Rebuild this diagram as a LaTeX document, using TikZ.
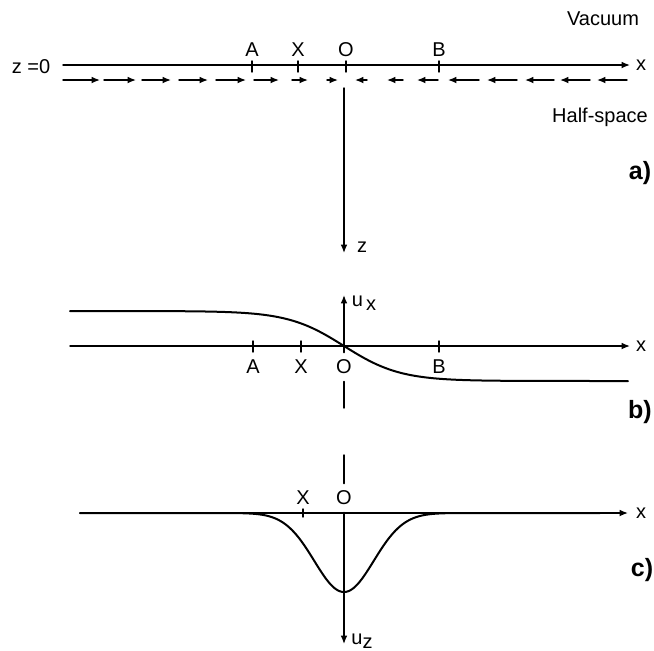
\documentclass[tikz,border=0pt]{standalone}
\usepackage{fontspec}
\setmainfont{Liberation Sans}
\usetikzlibrary{arrows.meta}
\begin{document}
\begin{tikzpicture}[x=0.5pt,y=-0.5pt,line join=round,line cap=round,line width=0.7pt,
	>={Latex[length=4.2pt,width=3.4pt]},font=\fontsize{10}{12}\selectfont,
	curve/.style={line width=1pt},
	tag/.style={font=\fontsize{12.5}{14}\selectfont\bfseries}]
	\useasboundingbox (0,0) rectangle (654,650);
	\path
	(63,65) coordinate (aleft) (630,65) coordinate (aright)
	(344,88) coordinate (ztop) (344,253) coordinate (zbot)
	(70,346) coordinate (bleft) (630,346) coordinate (bright)
	(344,295) coordinate (btop) (344,408) coordinate (bbot)
	(80,513) coordinate (cleft) (628,513) coordinate (cright)
	(344,455) coordinate (ctop) (344,644) coordinate (cbot)
	;
	% a)
	\draw[->] (aleft) -- (aright);
	\draw[->] (ztop) -- (zbot);
	\foreach \s/\e in {63/100,104/136,142/171,179/208,216/246,254/279,292/308,327/338,
		367/355,403/387,438/417,479/448,517/487,554/525,590/560,627/597}
	\draw[->] (\s,80) -- (\e,80);
	\foreach \n/\x in {A/252,X/298,O/346,B/439}
	\draw (\x,61) -- (\x,72) (\x,50) node (a\n) {\n};
	\node (az) at (31,67) {z =0};
	\node (ax) at (641,65) {x};
	\node (zlab) at (362,247) {z};
	\node (vac) at (603,19) {Vacuum};
	\node (half) at (600,117) {Half-space};
	\node[tag] (atag) at (640,173) {a)};
	% b)
	\draw[->] (bleft) -- (bright);
	\foreach \n/\x in {A/253,X/301,B/439}
	\draw (\x,341) -- (\x,352) (\x,367) node (b\n) {\n};
	\node (bO) at (344,367) {O};
	\draw[->] (bO.north) -- (btop);
	\draw (bO.south) -- (bbot);
	\draw[curve] plot[domain=70:628,samples=150] (\x,{346+35*tanh((\x-344)/56)});
	\node (bx) at (641,346) {x};
	\node (bu) at (364,303) {u\,\raisebox{-.4ex}{x}};
	\node[tag] (btag) at (640,412) {b)};
	% c)
	\draw[->] (cleft) -- (cright);
	\draw (303,509) -- (303,517) (303,498) node (cX) {X};
	\node (cO) at (344,498) {O};
	\draw (ctop) -- (cO.north);
	\draw[->] (cO.south) -- (cbot);
	\draw[curve] (cleft) -- (240,513)
	-- plot[domain=240:448,samples=120] (\x,{513+79*exp(-((\x-344)/42)^2)})
	-- (600,513);
	\node (cx) at (641,513) {x};
	\node (cu) at (362,641) {u\raisebox{-.4ex}{z}};
	\node[tag] (ctag) at (642,570) {c)};
\end{tikzpicture}
\end{document}
